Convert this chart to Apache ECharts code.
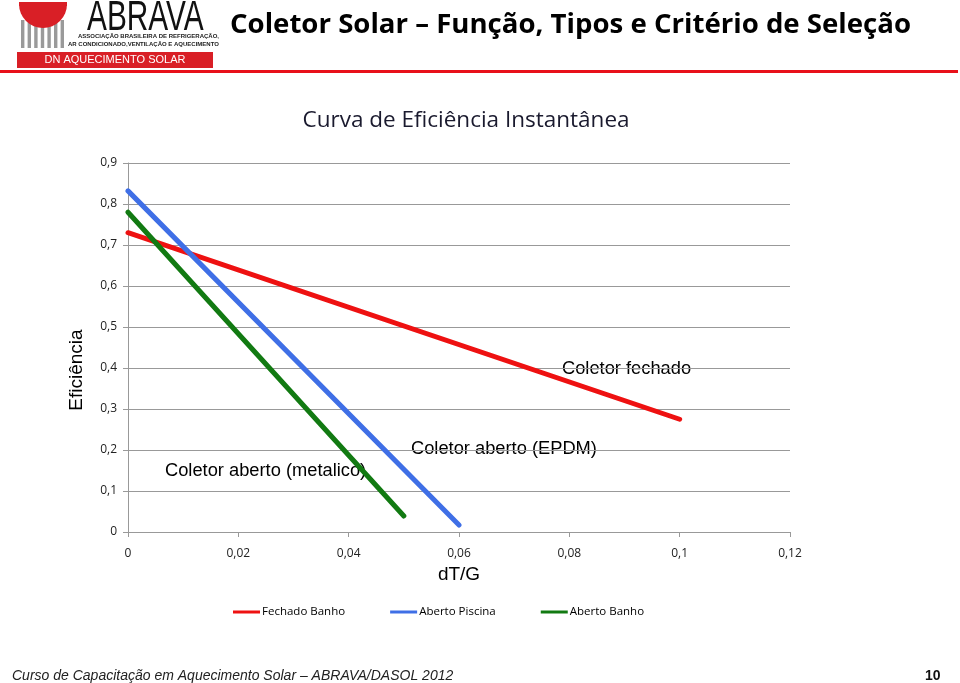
<!DOCTYPE html>
<html><head><meta charset="utf-8">
<script src="https://cdn.jsdelivr.net/npm/echarts@6/dist/echarts.min.js"></script>
<style>html,body{margin:0;padding:0;background:#fff}#c{width:960px;height:683px}</style>
</head><body><div id="c"></div>
<script>
const seriesNames = ['Fechado Banho', 'Aberto Piscina', 'Aberto Banho'];
const fechadoBanho = [[0, 0.73], [0.1, 0.275]];
const abertoPiscina = [[0, 0.832], [0.06, 0.017]];
const abertoBanho = [[0, 0.78], [0.05, 0.039]];
const xTicks = [0, 0.02, 0.04, 0.06, 0.08, 0.1, 0.12];
const yTicks = [0, 0.1, 0.2, 0.3, 0.4, 0.5, 0.6, 0.7, 0.8, 0.9];
const colors = ['#EE1111', '#3F6FE6', '#127A12'];

const fmt = (v, d) => String(Math.round(v * Math.pow(10, d)) / Math.pow(10, d)).replace('.', ',');

const chart = echarts.init(document.getElementById('c'));
const bars = [];
for (let i = 0; i < 7; i++) {
  bars.push({type: 'rect', shape: {x: 21 + i * 6.6, y: 20, width: 3.4, height: 28}, style: {fill: '#9a9a9a'}});
}
chart.setOption({
  animation: false,
  color: colors,
  grid: {left: 128, right: 170, top: 163, bottom: 151},
  title: {
    text: 'Curva de Eficiência Instantânea', left: 461, top: 104, textAlign: 'center',
    textStyle: {fontFamily: 'Open Sans', fontSize: 22.5, fontWeight: 'normal', color: '#1a1a2e'}
  },
  legend: {
    data: seriesNames, top: 601, left: 228, itemWidth: 27, itemHeight: 3, itemGap: 45,
    icon: 'rect',
    textStyle: {fontFamily: 'Open Sans', fontSize: 11.5, color: '#000', padding: [0, 0, 0, -3]}
  },
  xAxis: {
    type: 'value', min: 0, max: 0.12, interval: 0.02,
    name: 'dT/G', nameLocation: 'middle', nameGap: 33,
    nameTextStyle: {fontFamily: 'Liberation Sans', fontSize: 19, color: '#000'},
    axisLine: {lineStyle: {color: '#999'}},
    axisTick: {show: true, length: 5, lineStyle: {color: '#999'}},
    splitLine: {show: false},
    axisLabel: {formatter: v => fmt(v, 2), fontFamily: 'Open Sans', fontSize: 12, color: '#222', margin: 16}
  },
  yAxis: {
    type: 'value', min: 0, max: 0.9, interval: 0.1,
    axisLine: {show: true, lineStyle: {color: '#999'}},
    axisTick: {show: true, length: 5, lineStyle: {color: '#999'}},
    splitLine: {show: true, lineStyle: {color: '#999', width: 1}},
    axisLabel: {formatter: v => fmt(v, 1), fontFamily: 'Open Sans', fontSize: 12, color: '#222', margin: 11}
  },
  series: [
    {name: seriesNames[0], type: 'line', data: fechadoBanho, symbol: 'none', lineStyle: {width: 5, cap: 'round'}},
    {name: seriesNames[1], type: 'line', data: abertoPiscina, symbol: 'none', lineStyle: {width: 5, cap: 'round'}},
    {name: seriesNames[2], type: 'line', data: abertoBanho, symbol: 'none', lineStyle: {width: 5, cap: 'round'}}
  ],
  graphic: [
    {type: 'text', x: 230, y: 11, style: {text: 'Coletor Solar – Função, Tipos e Critério de Seleção', fontFamily: 'Open Sans', fontWeight: 'bold', fontSize: 27.6, fill: '#000'}},
    {type: 'rect', shape: {x: 0, y: 70, width: 958, height: 3}, style: {fill: '#E8101A'}},
    ...bars,
    {type: 'sector', shape: {cx: 43, cy: 4, r0: 0, r: 24, startAngle: 0, endAngle: Math.PI}, style: {fill: '#D91F26'}},
    {type: 'rect', shape: {x: 19, y: 2, width: 48, height: 4}, style: {fill: '#D91F26'}},
    {type: 'text', x: 87, y: -3, scaleX: 0.71, style: {text: 'ABRAVA', fontFamily: 'Liberation Sans', fontSize: 42, fill: '#111'}},
    {type: 'text', x: 78, y: 33, style: {text: 'ASSOCIAÇÃO BRASILEIRA DE REFRIGERAÇÃO,', fontFamily: 'Liberation Sans', fontWeight: 'bold', fontSize: 6, fill: '#222'}},
    {type: 'text', x: 68, y: 41, style: {text: 'AR CONDICIONADO,VENTILAÇÃO E AQUECIMENTO', fontFamily: 'Liberation Sans', fontWeight: 'bold', fontSize: 6, fill: '#222'}},
    {type: 'rect', shape: {x: 17, y: 52, width: 196, height: 16}, style: {fill: '#D91F26'}},
    {type: 'text', x: 115, y: 54, style: {text: 'DN AQUECIMENTO SOLAR', fontFamily: 'Liberation Sans', fontSize: 11, fill: '#fff', align: 'center'}},
    {type: 'text', x: 77, y: 370, rotation: Math.PI / 2, style: {text: 'Eficiência', fontFamily: 'Liberation Sans', fontSize: 19, fill: '#000', align: 'center', verticalAlign: 'middle'}},
    {type: 'text', x: 562, y: 360, style: {text: 'Coletor fechado', fontFamily: 'Liberation Sans', fontSize: 18.3, fill: '#000'}},
    {type: 'text', x: 411, y: 440, style: {text: 'Coletor aberto (EPDM)', fontFamily: 'Liberation Sans', fontSize: 18.3, fill: '#000'}},
    {type: 'text', x: 165, y: 462, style: {text: 'Coletor aberto (metalico)', fontFamily: 'Liberation Sans', fontSize: 18.3, fill: '#000'}},
    {type: 'text', x: 12, y: 669, style: {text: 'Curso de Capacitação em Aquecimento Solar – ABRAVA/DASOL 2012', fontFamily: 'Liberation Sans', fontStyle: 'italic', fontSize: 14, fill: '#222'}},
    {type: 'text', x: 925, y: 669, style: {text: '10', fontFamily: 'Liberation Sans', fontWeight: 'bold', fontSize: 14, fill: '#111'}}
  ]
});
</script></body></html>
